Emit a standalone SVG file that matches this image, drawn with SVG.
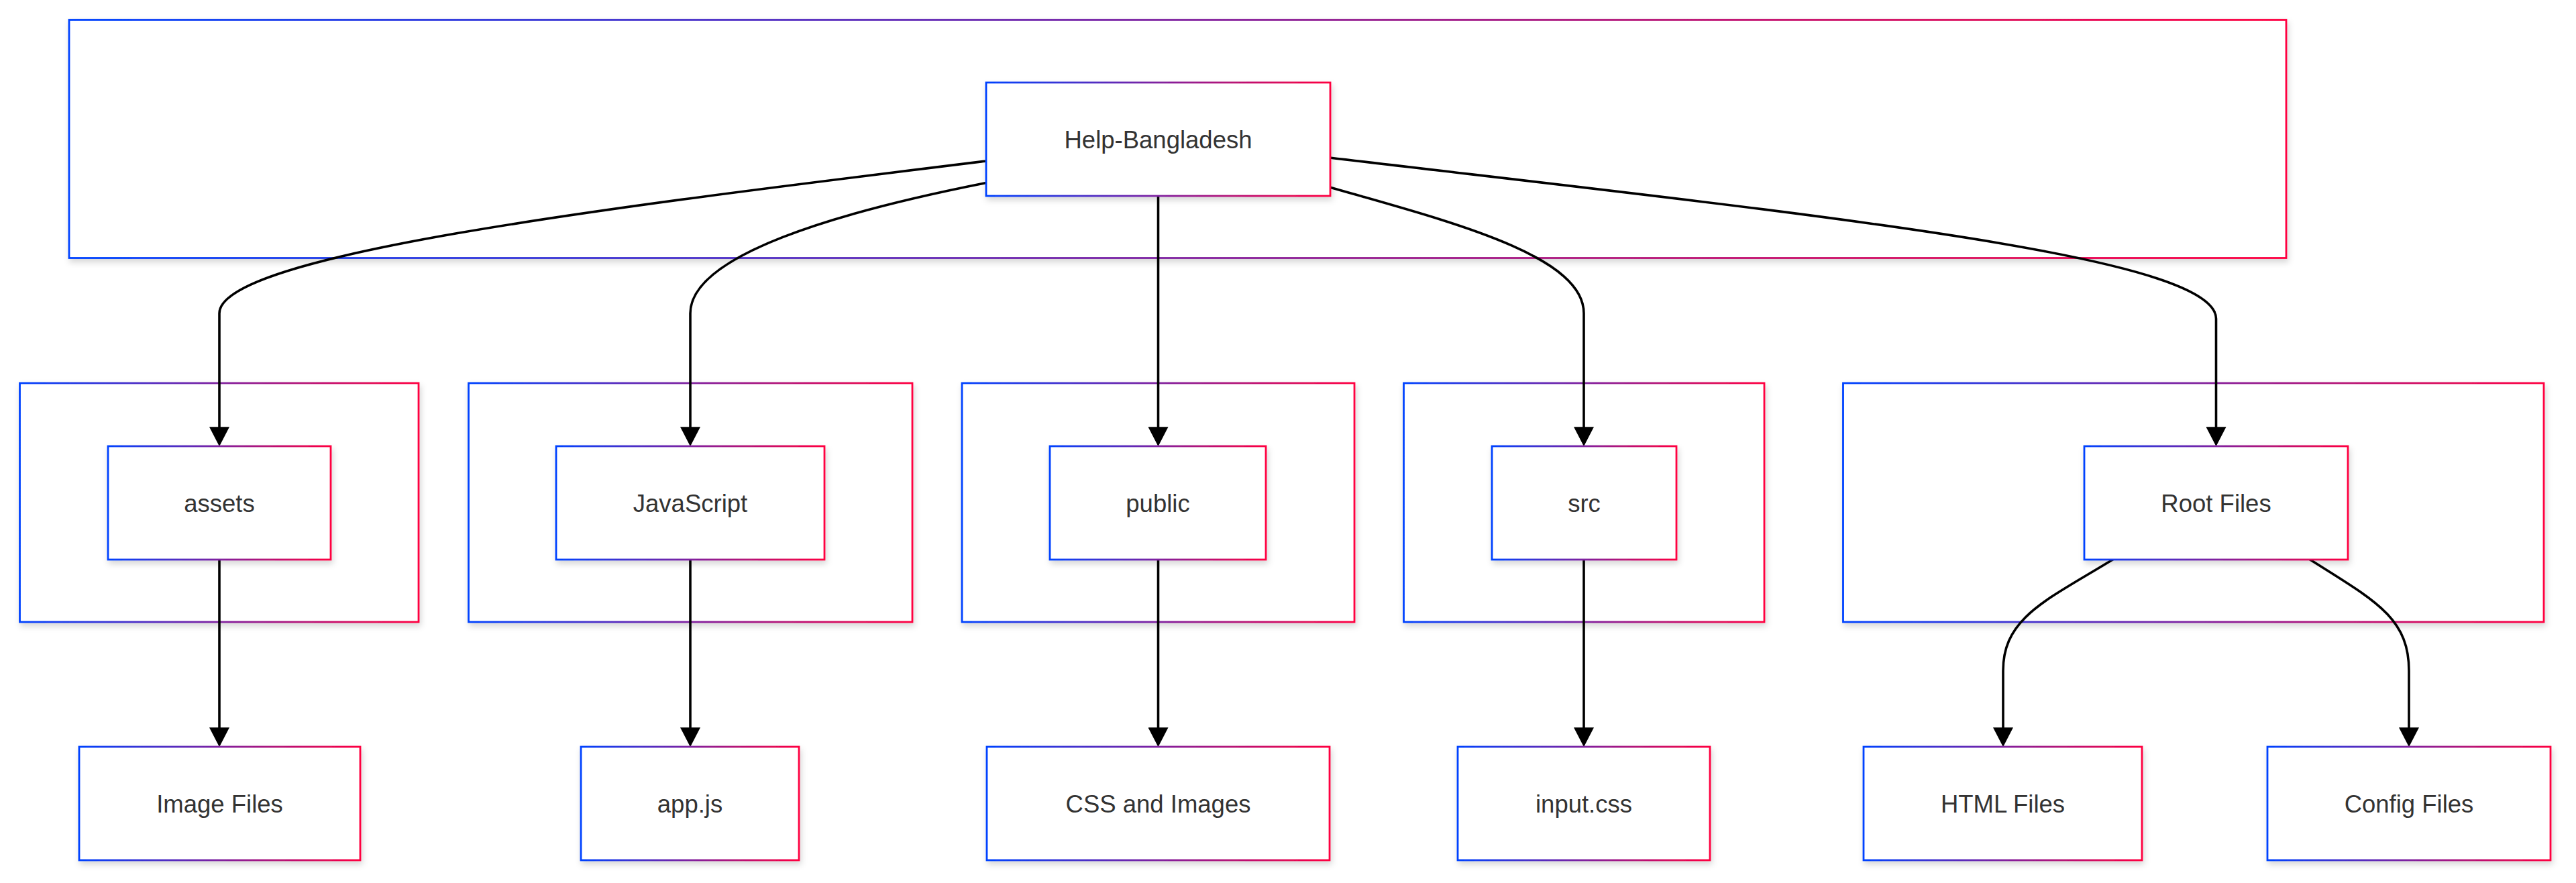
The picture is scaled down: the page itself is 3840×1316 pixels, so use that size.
<svg xmlns="http://www.w3.org/2000/svg" width="3840" height="1316" viewBox="0 0 3840 1316">
<defs>
<linearGradient id="grad" x1="0" y1="0" x2="1" y2="0">
<stop offset="0" stop-color="#0042ff"/>
<stop offset="1" stop-color="#ff0040"/>
</linearGradient>
<filter id="shadow" x="-10%" y="-10%" width="120%" height="130%">
<feDropShadow dx="2" dy="5" stdDeviation="5" flood-color="#000" flood-opacity="0.16"/>
</filter>
<marker id="arrow" markerUnits="userSpaceOnUse" markerWidth="30" markerHeight="30" viewBox="0 0 28 29" refX="23" refY="14.5" orient="auto">
<path d="M0,0 L28,14.5 L0,29 Z" fill="#000"/>
</marker>
</defs>
<style>
.box{fill:#fff;stroke:url(#grad);stroke-width:2.8;filter:url(#shadow);}
.lbl{font-family:"Liberation Sans",Arial,Helvetica,sans-serif;font-size:36.5px;fill:#333;text-anchor:middle;}
.edge{fill:none;stroke:#000;stroke-width:3.6;marker-end:url(#arrow);}
</style>
<rect width="3840" height="1316" fill="#fff"/>
<g id="clusters">
<rect id="cluster-root" class="box" x="103" y="29.5" width="3305" height="355"/>
<rect id="cluster-assets" class="box" x="29.5" y="571" width="594.5" height="356"/>
<rect id="cluster-js" class="box" x="698.5" y="571" width="661.5" height="356"/>
<rect id="cluster-public" class="box" x="1434" y="571" width="585" height="356"/>
<rect id="cluster-src" class="box" x="2092.5" y="571" width="537.5" height="356"/>
<rect id="cluster-rootfiles" class="box" x="2747.5" y="571" width="1044.5" height="356"/>
</g>
<g id="connectors">
<path class="edge" d="M1470,240 C900,310 327,380 327,467 L327,660"/>
<path class="edge" d="M1470,272.5 C1250,316 1029,380 1029,467 L1029,660"/>
<path class="edge" d="M1726.5,292 L1726.5,660"/>
<path class="edge" d="M1982,279 C2160,330 2361,380 2361,467 L2361,660"/>
<path class="edge" d="M1982,235 C2700,320 3303.5,380 3303.5,475 L3303.5,660"/>
<path class="edge" d="M327,834 L327,1108"/>
<path class="edge" d="M1029,834 L1029,1108"/>
<path class="edge" d="M1726.5,834 L1726.5,1108"/>
<path class="edge" d="M2361,834 L2361,1108"/>
<path class="edge" d="M3151,833 C3050,895 2986,920 2986,1000 L2986,1108"/>
<path class="edge" d="M3442,833 C3540,895 3591,920 3591,1000 L3591,1108"/>
</g>
<g id="node-help">
<rect class="box" x="1470" y="123" width="513" height="169"/>
<text class="lbl" x="1726.5" y="220.5">Help-Bangladesh</text>
</g>
<g id="node-assets">
<rect class="box" x="161" y="665" width="332" height="169"/>
<text class="lbl" x="327" y="762.5">assets</text>
</g>
<g id="node-javascript">
<rect class="box" x="829" y="665" width="400" height="169"/>
<text class="lbl" x="1029" y="762.5">JavaScript</text>
</g>
<g id="node-public">
<rect class="box" x="1565" y="665" width="322" height="169"/>
<text class="lbl" x="1726" y="762.5">public</text>
</g>
<g id="node-src">
<rect class="box" x="2224" y="665" width="275" height="169"/>
<text class="lbl" x="2361.5" y="762.5">src</text>
</g>
<g id="node-rootfiles">
<rect class="box" x="3107" y="665" width="393" height="169"/>
<text class="lbl" x="3303.5" y="762.5">Root Files</text>
</g>
<g id="node-imagefiles">
<rect class="box" x="118" y="1113" width="419" height="169"/>
<text class="lbl" x="327.5" y="1211">Image Files</text>
</g>
<g id="node-appjs">
<rect class="box" x="866" y="1113" width="325" height="169"/>
<text class="lbl" x="1028.5" y="1211">app.js</text>
</g>
<g id="node-cssimages">
<rect class="box" x="1471" y="1113" width="511" height="169"/>
<text class="lbl" x="1726.5" y="1211">CSS and Images</text>
</g>
<g id="node-inputcss">
<rect class="box" x="2173" y="1113" width="376" height="169"/>
<text class="lbl" x="2361" y="1211">input.css</text>
</g>
<g id="node-htmlfiles">
<rect class="box" x="2778" y="1113" width="415" height="169"/>
<text class="lbl" x="2985.5" y="1211">HTML Files</text>
</g>
<g id="node-configfiles">
<rect class="box" x="3380" y="1113" width="422" height="169"/>
<text class="lbl" x="3591" y="1211">Config Files</text>
</g>
</svg>
